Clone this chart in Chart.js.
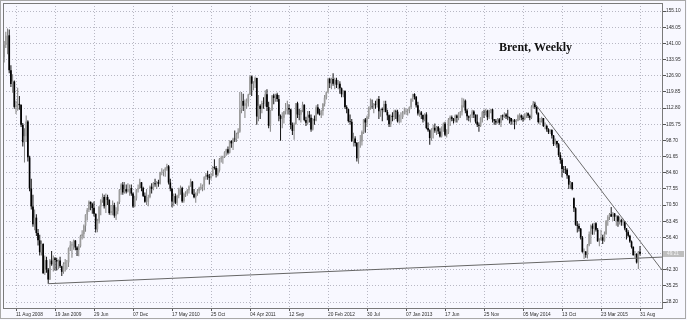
<!DOCTYPE html>
<html>
<head>
<meta charset="utf-8">
<script src="https://cdn.jsdelivr.net/npm/chart.js@4.4.1/dist/chart.umd.min.js"></script>
<style>
html,body{margin:0;padding:0;background:#F8F8FF;}
#wrap{position:relative;width:687px;height:320px;}
canvas{display:block;}
</style>
</head>
<body>
<div id="wrap"><canvas id="c" width="687" height="320"></canvas></div>
<script>
// Weekly bars, first bar = week of 23 Jun 2008
const firstWeek = '2008-06-23';

const openPrices = [
135.0,140.3,144.3,144.5,129.3,123.3,124.4,113.3,113.8,114.6,114.1,105.5,97.9,100.5,106.9,91.3,77.7,69.9,62.1,65.0,58.3,55.1,49.9,53.5,40.8,46.5,42.4,38.0,
46.3,44.7,47.3,46.5,45.9,46.3,43.8,41.4,44.8,45.5,45.5,51.6,52.9,53.4,55.0,52.0,50.9,52.5,56.9,57.8,61.5,66.3,68.4,71.9,70.9,69.2,66.7,59.9,63.6,69.9,72.6,74.0,70.0,74.0,72.7,67.0,67.9,70.5,65.9,67.8,71.8,77.1,79.4,76.0,77.4,76.4,77.5,77.9,75.5,69.9,73.4,77.3,
77.9,80.4,77.9,74.5,71.9,71.9,74.0,78.5,77.5,80.0,79.6,80.5,79.8,84.9,84.9,85.6,86.4,87.4,80.3,77.6,72.0,74.4,71.5,74.6,77.3,77.9,72.1,75.4,75.4,77.0,78.6,80.7,75.4,73.9,75.8,76.7,77.9,78.3,79.0,82.7,83.7,82.9,82.4,83.2,87.1,86.7,83.7,85.6,90.7,91.2,91.5,93.5,
94.8,93.3,98.4,97.4,99.4,99.2,101.4,102.5,112.1,115.9,113.8,114.9,115.6,118.7,126.6,123.4,123.9,125.9,109.1,113.8,112.4,115.0,114.9,118.8,113.2,105.1,111.9,118.3,117.2,118.7,116.7,109.4,108.0,108.6,111.4,112.3,112.8,112.2,105.4,102.8,105.9,114.9,110.0,109.9,111.9,114.2,107.6,106.4,109.9,108.6,103.4,107.9,
107.4,113.1,110.4,110.0,111.5,114.6,117.3,119.6,125.5,123.6,125.5,123.4,125.1,122.9,123.4,121.4,118.8,120.2,113.2,112.3,107.1,106.8,98.4,99.5,97.6,90.9,97.8,98.2,102.4,107.8,106.5,109.0,113.0,113.7,113.6,114.6,114.3,116.7,111.4,112.4,111.9,114.6,111.1,109.6,105.7,109.4,108.9,111.4,111.2,107.0,108.9,108.9,110.6,
111.3,111.6,111.9,113.3,116.8,118.9,117.7,114.0,110.4,110.9,109.8,107.8,110.0,104.1,103.1,99.7,103.4,104.2,103.0,104.6,102.6,100.4,104.6,105.9,101.2,102.2,107.7,108.8,108.1,107.2,109.5,108.5,110.4,111.0,114.0,116.0,111.7,109.2,108.6,109.5,111.3,109.9,106.9,105.5,105.1,108.5,111.0,110.8,111.6,108.8,111.8,112.2,
107.9,107.3,106.5,107.9,106.4,109.6,109.1,110.0,109.1,108.8,108.4,106.9,107.5,106.7,107.3,109.5,109.6,108.6,107.9,109.8,110.5,109.4,108.6,113.4,114.8,113.3,110.6,106.7,107.2,108.4,105.0,105.0,103.5,102.3,103.2,100.8,97.1,98.4,97.0,92.3,90.2,86.2,86.1,85.9,83.4,79.4,80.4,73.5,69.1,61.9,61.4,60.2,
56.4,50.1,50.2,48.8,53.0,57.8,61.5,60.2,62.6,59.7,54.7,55.3,56.4,55.0,57.9,63.5,65.3,66.5,65.4,66.8,65.4,65.6,63.3,63.9,63.0,63.3,60.3,58.7,57.1,54.6,52.2,48.6,49.2,45.5,50.1
];

const highPrices = [
142.0,146.1,147.5,147.0,131.5,127.5,124.8,116.0,121.6,118.0,114.5,106.3,104.0,109.5,107.5,92.0,82.0,75.0,68.5,66.5,60.0,57.5,55.0,53.8,48.5,48.0,43.0,47.0,
50.5,48.5,47.8,47.5,46.8,48.0,44.0,45.5,47.0,46.5,52.0,54.8,54.5,55.5,55.3,52.5,53.5,57.5,59.5,62.0,66.5,69.2,72.5,72.0,71.5,72.0,66.8,64.5,70.0,73.0,75.5,75.0,75.5,75.0,73.0,70.5,72.5,71.5,69.5,72.0,77.5,80.0,80.5,80.5,79.5,80.0,79.5,79.5,76.0,74.5,77.5,79.5,
82.0,80.5,78.5,76.0,77.5,75.0,79.0,80.0,80.5,82.0,81.0,81.5,85.0,86.5,86.0,87.0,88.5,88.0,82.0,78.0,75.5,75.5,75.0,78.0,79.0,78.5,76.0,76.5,77.5,79.0,82.0,81.0,77.5,76.0,77.5,78.5,80.0,79.5,83.0,84.5,85.5,84.0,84.5,87.5,90.5,87.5,86.5,91.0,92.0,92.0,94.0,95.0,
96.0,98.8,98.8,99.8,103.0,102.0,104.0,119.8,119.8,119.0,116.5,117.0,119.0,127.0,127.0,124.5,126.5,126.0,118.5,114.5,116.0,117.5,120.5,121.0,115.5,112.0,118.5,119.0,119.0,119.5,118.5,110.0,111.0,111.5,115.0,116.0,114.5,112.5,106.5,106.5,115.0,115.5,112.5,112.0,115.5,114.5,109.0,111.5,111.5,110.0,108.5,109.5,
114.0,114.5,112.5,112.0,115.0,118.5,120.0,126.0,126.0,126.0,128.0,126.0,126.0,125.0,124.5,121.8,120.5,120.5,114.0,112.5,110.0,108.0,102.0,100.5,98.0,98.0,101.0,103.0,108.0,108.5,109.5,113.5,117.0,116.5,115.0,116.0,117.0,118.0,112.5,113.0,116.0,116.0,112.0,110.0,110.0,111.0,112.0,112.0,112.0,110.0,111.0,111.5,113.0,
112.5,112.5,113.5,117.0,119.0,119.2,118.0,115.5,112.0,111.5,110.0,110.5,111.0,106.5,103.5,104.0,105.5,106.0,105.0,105.0,104.0,104.8,106.5,106.8,103.5,108.5,109.5,109.5,108.5,110.0,110.0,111.0,111.5,117.3,117.0,116.5,112.5,109.5,110.0,112.0,111.8,110.0,110.0,106.5,108.8,111.5,112.0,112.5,112.0,112.0,112.5,112.5,
108.0,108.0,108.5,108.5,109.8,110.0,111.0,110.5,112.0,109.0,108.5,108.0,108.0,108.0,110.0,110.5,110.0,109.5,110.5,111.0,110.8,110.0,114.0,115.7,115.5,113.5,111.0,108.5,109.0,108.5,106.5,105.5,104.0,103.5,103.5,101.0,99.5,98.5,97.5,93.5,91.0,87.5,87.5,86.5,83.5,81.0,80.5,73.8,69.5,63.5,62.5,60.5,
57.0,51.5,50.5,53.5,59.0,62.0,62.5,62.8,63.0,60.5,56.0,59.7,57.5,59.0,64.0,66.0,67.0,69.6,67.5,67.0,66.0,66.0,65.5,64.5,64.5,63.5,60.5,59.5,57.5,55.0,52.5,50.5,49.5,50.5,52.6
];

const lowPrices = [
132.6,139.0,136.2,128.0,122.0,119.5,112.5,110.2,111.6,112.0,104.5,96.0,89.0,98.0,89.5,76.5,68.5,61.0,59.5,57.0,52.8,48.5,48.5,40.5,40.0,41.0,36.2,37.8,
44.0,41.5,42.0,42.0,42.5,43.0,39.5,40.5,41.5,42.5,43.5,50.5,47.5,51.0,50.8,48.3,48.2,52.0,55.5,56.0,58.8,63.8,67.5,68.2,66.7,65.5,58.5,58.6,62.5,66.0,71.5,69.0,67.0,70.5,66.3,66.0,66.0,65.0,64.0,66.5,71.0,75.0,75.0,75.5,75.5,76.0,74.5,74.5,69.3,69.5,72.5,76.0,
77.5,76.5,74.0,71.5,70.5,70.0,73.5,75.5,77.0,78.5,77.5,78.5,79.5,83.5,83.0,82.8,85.5,79.5,76.5,69.5,70.0,71.0,70.5,73.5,75.0,71.5,71.5,74.0,74.5,75.5,78.5,75.0,73.5,71.5,74.5,75.5,77.0,76.5,77.0,81.5,81.5,79.5,81.5,83.0,86.0,82.5,83.0,85.0,89.0,88.5,91.0,92.0,
92.5,93.0,95.5,94.5,98.0,98.0,99.5,102.0,110.5,111.5,108.5,112.5,113.5,118.5,118.0,120.5,121.5,105.5,107.0,108.0,110.5,112.5,113.5,111.5,104.0,102.5,111.5,114.5,115.5,115.5,107.0,98.5,104.0,106.0,110.0,110.0,110.0,103.5,101.0,99.0,105.5,108.5,107.5,106.5,111.0,107.0,105.0,105.5,106.5,102.5,103.0,105.5,
107.0,110.0,109.5,108.5,109.5,113.5,116.5,119.5,121.5,121.0,122.5,121.0,121.5,121.0,119.0,117.5,117.5,112.5,110.5,106.5,105.5,98.0,96.0,96.0,89.5,88.5,95.5,96.5,101.5,102.0,104.5,108.0,112.0,112.5,110.5,112.5,113.0,108.0,109.0,107.0,111.0,111.0,107.5,104.5,104.5,107.0,107.5,108.0,106.5,106.0,106.5,108.0,110.0,
110.0,109.5,110.5,112.5,115.5,116.5,113.0,109.5,109.0,108.0,106.5,107.0,103.5,102.5,96.8,98.5,99.5,102.0,101.0,101.5,100.0,100.0,102.5,100.5,100.0,101.5,105.0,107.0,106.0,106.5,106.5,107.5,108.5,109.5,113.0,110.5,107.5,107.0,106.5,108.5,108.5,106.0,104.5,102.5,104.5,106.5,108.5,109.5,107.5,108.0,110.5,106.5,
105.5,105.5,106.0,105.5,104.5,107.5,108.5,108.0,107.5,106.0,105.5,105.5,103.5,105.5,107.0,107.5,107.5,106.8,107.5,108.5,108.5,107.5,108.0,112.5,112.5,110.0,106.0,105.5,106.5,104.5,103.5,102.5,101.5,101.5,99.5,96.2,96.5,95.5,91.5,88.5,82.6,84.5,84.0,82.0,77.5,77.5,77.0,67.5,61.5,58.5,59.0,55.5,
49.7,47.0,47.5,47.2,52.5,53.5,57.5,57.5,59.0,54.5,52.5,55.0,53.5,54.5,57.5,61.5,64.0,65.5,63.5,63.5,61.5,61.0,62.0,61.5,61.5,59.5,55.5,56.5,54.0,51.5,48.5,47.5,45.0,42.6,48.5
];

const closePrices = [
140.3,144.3,144.5,129.3,123.3,124.4,113.3,113.8,114.6,114.1,105.5,97.9,100.5,106.9,91.3,77.7,69.9,62.1,65.0,58.3,55.1,49.9,53.5,40.8,46.5,42.4,38.0,46.3,
44.7,47.3,46.5,45.9,46.3,43.8,41.4,44.8,45.5,45.5,51.6,52.9,53.4,55.0,52.0,50.9,52.5,56.9,57.8,61.5,66.3,68.4,71.9,70.9,69.2,66.7,59.9,63.6,69.9,72.6,74.0,70.0,74.0,72.7,67.0,67.9,70.5,65.9,67.8,71.8,77.1,79.4,76.0,77.4,76.4,77.5,77.9,75.5,69.9,73.4,77.3,77.9,
80.4,77.9,74.5,71.9,71.9,74.0,78.5,77.5,80.0,79.6,80.5,79.8,84.9,84.9,85.6,86.4,87.4,80.3,77.6,72.0,74.4,71.5,74.6,77.3,77.9,72.1,75.4,75.4,77.0,78.6,80.7,75.4,73.9,75.8,76.7,77.9,78.3,79.0,82.7,83.7,82.9,82.4,83.2,87.1,86.7,83.7,85.6,90.7,91.2,91.5,93.5,94.8,
93.3,98.4,97.4,99.4,99.2,101.4,102.5,112.1,115.9,113.8,114.9,115.6,118.7,126.6,123.4,123.9,125.9,109.1,113.8,112.4,115.0,114.9,118.8,113.2,105.1,111.9,118.3,117.2,118.7,116.7,109.4,108.0,108.6,111.4,112.3,112.8,112.2,105.4,102.8,105.9,114.9,110.0,109.9,111.9,114.2,107.6,106.4,109.9,108.6,103.4,107.9,107.4,
113.1,110.4,110.0,111.5,114.6,117.3,119.6,125.5,123.6,125.5,123.4,125.1,122.9,123.4,121.4,118.8,120.2,113.2,112.3,107.1,106.8,98.4,99.5,97.6,90.9,97.8,98.2,102.4,107.8,106.5,109.0,113.0,113.7,113.6,114.6,114.3,116.7,111.4,112.4,111.9,114.6,111.1,109.6,105.7,109.4,108.9,111.4,111.2,107.0,108.9,108.9,110.6,111.3,
111.6,111.9,113.3,116.8,118.9,117.7,114.0,110.4,110.9,109.8,107.8,110.0,104.1,103.1,99.7,103.4,104.2,103.0,104.6,102.6,100.4,104.6,105.9,101.2,102.2,107.7,108.8,108.1,107.2,109.5,108.5,110.4,111.0,114.0,116.0,111.7,109.2,108.6,109.5,111.3,109.9,106.9,105.5,105.1,108.5,111.0,110.8,111.6,108.8,111.8,112.2,107.9,
107.3,106.5,107.9,106.4,109.6,109.1,110.0,109.1,108.8,108.4,106.9,107.5,106.7,107.3,109.5,109.6,108.6,107.9,109.8,110.5,109.4,108.6,113.4,114.8,113.3,110.6,106.7,107.2,108.4,105.0,105.0,103.5,102.3,103.2,100.8,97.1,98.4,97.0,92.3,90.2,86.2,86.1,85.9,83.4,79.4,80.4,77.5,69.1,61.9,61.4,60.2,56.4,
50.1,50.2,48.8,53.0,57.8,61.5,60.2,62.6,59.7,54.7,55.3,56.4,55.0,57.9,63.5,65.3,66.5,65.4,66.8,65.4,65.6,63.3,63.9,63.0,63.3,60.3,58.7,57.1,54.6,52.2,48.6,49.2,45.5,50.1,49.21
];

// Axis ticks
const yTickValues = [28.20,35.25,42.30,49.35,56.40,63.45,70.50,77.55,84.60,91.65,98.70,105.75,112.80,119.85,126.90,133.95,141.00,148.05,155.10];
const xTickDates = ['2008-08-11','2009-01-19','2009-06-29','2009-12-07','2010-05-17','2010-10-25','2011-04-04','2011-09-12','2012-02-20','2012-07-30','2013-01-07','2013-06-17','2013-11-25','2014-05-05','2014-10-13','2015-03-23','2015-08-31'];
const xTickLabels = ['11 Aug 2008','19 Jan 2009','29 Jun','07 Dec','17 May 2010','25 Oct','04 Apr 2011','12 Sep','20 Feb 2012','30 Jul','07 Jan 2013','17 Jun','25 Nov','05 May 2014','13 Oct','23 Mar 2015','31 Aug'];

// Trend lines (week index, price)
const supportLine = [{x:26, y:36.2}, {x:388, y:47.8}];
const resistanceLine = [{x:312, y:115.7}, {x:388, y:42.1}];

const chartTitle = 'Brent, Weekly';

const weekIdx = d => Math.round((Date.parse(d) - Date.parse(firstWeek)) / (7 * 86400000));
const N = closePrices.length;
const idx = Array.from({length: N}, (_, i) => i);
const isUp = i => closePrices[i] >= openPrices[i];
const wickData = idx.map(i => ({x: i, y: [lowPrices[i], highPrices[i]]}));
const bodyData = idx.map(i => ({x: i, y: [openPrices[i], closePrices[i]]}));
const xTickIdx = xTickDates.map(weekIdx);
const lastPrice = closePrices[N - 1];

const tickFont = {family: '"Liberation Sans", Arial, sans-serif', size: 4.8};

const decor = {
  id: 'decor',
  beforeDraw(chart) {
    const c = chart.ctx;
    c.save();
    c.fillStyle = '#F8F8FF';
    c.fillRect(0, 0, chart.width, chart.height);
    c.restore();
  },
  afterDraw(chart) {
    const c = chart.ctx, a = chart.chartArea;
    c.save();
    c.strokeStyle = '#7A7A7A'; c.lineWidth = 1;
    c.strokeRect(a.left + 0.5, a.top + 0.5, a.right - a.left, a.bottom - a.top);
    c.strokeStyle = '#A8A8A8';
    c.strokeRect(0.5, 0.5, chart.width - 2, chart.height - 2);
    // current price label
    const yp = chart.scales.y.getPixelForValue(lastPrice);
    c.fillStyle = '#BEBEBE';
    c.fillRect(a.right + 1, Math.round(yp) - 3, 21, 6);
    c.fillStyle = '#F4F4F4';
    c.font = '4.8px "Liberation Sans", Arial, sans-serif';
    c.textBaseline = 'middle';
    c.fillText(lastPrice.toFixed(2), a.right + 5, yp);
    // title
    c.fillStyle = '#111';
    c.font = 'bold 12px "Liberation Serif", "Times New Roman", serif';
    c.textBaseline = 'alphabetic';
    c.fillText(chartTitle, 499, 51);
    c.restore();
  }
};

new Chart(document.getElementById('c'), {
  type: 'bar',
  data: {
    datasets: [
      {
        type: 'line', data: supportLine, borderColor: '#666666', borderWidth: 1,
        pointRadius: 0, order: 1
      },
      {
        type: 'line', data: resistanceLine, borderColor: '#6C6C6C', borderWidth: 1,
        pointRadius: 0, order: 1
      },
      {
        data: bodyData, grouped: false, barThickness: 1.7, borderWidth: 0, inflateAmount: 0,
        backgroundColor: ctx => isUp(ctx.dataIndex) ? '#9C9C9C' : '#000000', order: 2
      },
      {
        data: wickData, grouped: false, barThickness: 1, borderWidth: 0, inflateAmount: 0,
        backgroundColor: ctx => isUp(ctx.dataIndex) ? '#808080' : '#141414', order: 3
      }
    ]
  },
  options: {
    responsive: false,
    animation: false,
    devicePixelRatio: 1,
    layout: {padding: {left: 3, top: 3, right: 0, bottom: 0}},
    plugins: {legend: {display: false}, tooltip: {enabled: false}},
    scales: {
      x: {
        type: 'linear', min: -0.667, max: 387.96, offset: false,
        afterBuildTicks: s => { s.ticks = xTickIdx.map(v => ({value: v})); },
        afterFit: s => { s.height = 12; },
        ticks: {
          autoSkip: false, maxRotation: 0, minRotation: 0, align: 'start', padding: 0.5,
          font: tickFont, color: '#2E2E2E',
          callback: v => { const k = xTickIdx.indexOf(v); return k >= 0 ? xTickLabels[k] : ''; }
        },
        grid: {
          offset: false, color: '#B8B8C4', lineWidth: 1, drawTicks: true, tickLength: 3,
          tickColor: '#555', tickBorderDash: [], tickWidth: 1
        },
        border: {display: false, dash: [1, 2]}
      },
      y: {
        type: 'linear', position: 'right', min: 25.6, max: 158.6,
        afterBuildTicks: s => { s.ticks = yTickValues.map(v => ({value: v})); },
        afterFit: s => { s.width = 25; },
        ticks: {
          padding: 0, font: tickFont, color: '#2E2E2E',
          callback: v => Math.abs(v - 49.35) < 0.001 ? '' : v.toFixed(2)
        },
        grid: {
          color: '#B8B8C4', lineWidth: 1, drawTicks: true, tickLength: 4,
          tickColor: '#555', tickBorderDash: [], tickWidth: 1
        },
        border: {display: false, dash: [1, 2]}
      }
    }
  },
  plugins: [decor]
});
</script>
</body>
</html>
